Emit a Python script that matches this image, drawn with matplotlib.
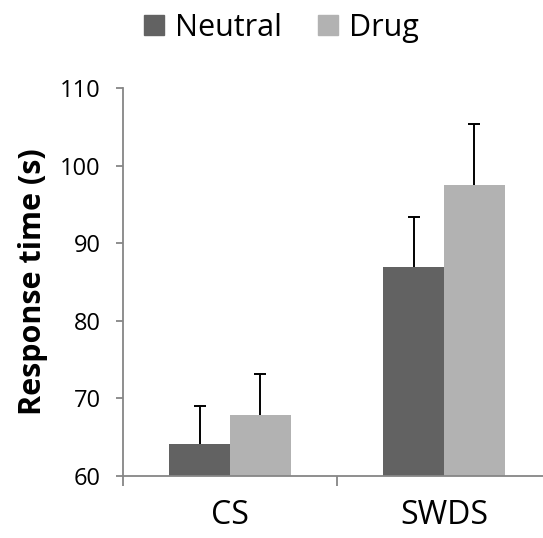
import numpy as np
import matplotlib.pyplot as plt
from matplotlib.patches import Patch

# 反应时间数据（均值 + 标准误）
groups = ['CS', 'SWDS']
neutral = [64.1, 86.9]
drug = [67.8, 97.5]
neutral_err = [4.9, 6.5]
drug_err = [5.3, 7.9]
yticks = [60, 70, 80, 90, 100, 110]

c_neutral = '#626262'
c_drug = '#b2b2b2'
c_axis = '#868686'

plt.rcParams['font.family'] = ['Open Sans', 'DejaVu Sans']

fig = plt.figure(figsize=(5.43, 5.38), dpi=100)
ax = fig.add_axes([123 / 543, 62.3 / 538, 428 / 543, 387.4 / 538])

x = np.arange(len(groups))
w = 0.285
ax.bar(x - w / 2, neutral, w, color=c_neutral, zorder=2)
ax.bar(x + w / 2, drug, w, color=c_drug, zorder=2)

# 只画向上的误差线，去掉柱顶的下帽
for xs, ys, es in [(x - w / 2, neutral, neutral_err), (x + w / 2, drug, drug_err)]:
    eb = ax.errorbar(xs, ys, yerr=[np.zeros(2), es], fmt='none', ecolor='black',
                     elinewidth=1.4, capsize=4, capthick=1.4, zorder=3)
    eb.lines[1][0].set_visible(False)

ax.set_xlim(-0.5, 1.5)
ax.set_ylim(60, 110)
ax.set_yticks(yticks)
ax.set_yticklabels([str(v) for v in yticks], fontsize=17)
ax.set_xticks(x)
ax.set_xticklabels(groups, fontsize=23)
ax.tick_params(axis='x', length=0, pad=17)
ax.set_xticks([-0.5, 0.5, 1.5], minor=True)
ax.tick_params(axis='x', which='minor', length=7, color=c_axis, width=1.3, direction='out')
ax.tick_params(axis='y', length=5, color=c_axis, width=1.3, direction='out', pad=11)

for s in ['top', 'right']:
    ax.spines[s].set_visible(False)
for s in ['left', 'bottom']:
    ax.spines[s].set_color(c_axis)
    ax.spines[s].set_linewidth(1.3)

ax.set_ylabel('Response time (s)', fontsize=22, fontweight='bold', labelpad=9)

handles = [Patch(color=c_neutral, label='Neutral'), Patch(color=c_drug, label='Drug')]
fig.legend(handles=handles, loc='center', bbox_to_anchor=(0.518, 0.948), ncol=2,
           frameon=False, fontsize=22, handlelength=0.65, handleheight=0.65,
           handletextpad=0.35, columnspacing=1.2)

plt.savefig('out.png', dpi=100)
